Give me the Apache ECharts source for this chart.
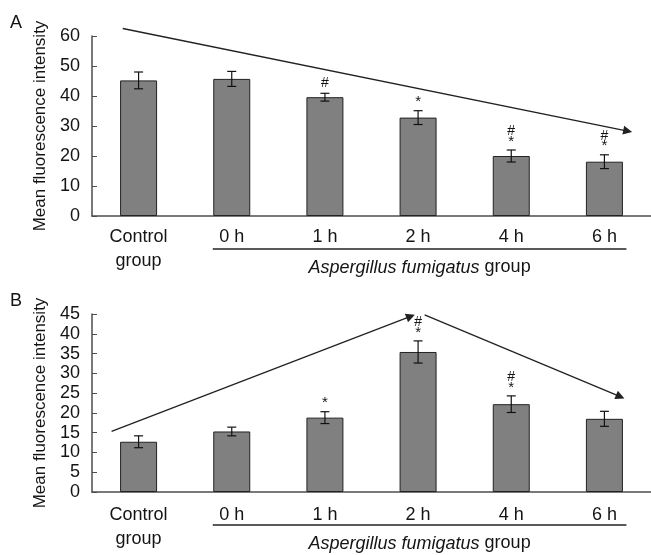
<!DOCTYPE html>
<html><head><meta charset="utf-8">
<script src="https://cdn.jsdelivr.net/npm/echarts@6/dist/echarts.min.js"></script>
<style>html,body{margin:0;padding:0;background:#fff}#c{width:651px;height:555px}</style>
</head><body><div id="c"></div>
<script>
// ---- data ----
const categories = ['Control\ngroup', '0 h', '1 h', '2 h', '4 h', '6 h'];
const meanA = [45.2, 45.7, 39.6, 32.8, 20.0, 18.1];
const errA  = [2.8, 2.5, 1.3, 2.3, 2.0, 2.3];
const marksA = ['', '', '#', '*', '#*', '#*'];
const meanB = [12.7, 15.3, 18.8, 35.4, 22.2, 18.5];
const errB  = [1.5, 1.1, 1.5, 2.8, 2.1, 1.9];
const marksB = ['', '', '*', '#*', '#*', ''];
// trend arrows in (category position 0..6, value) units
const arrowA  = [[0.33, 62.5], [5.75, 28.3]];
const arrowB1 = [[0.21, 15.3], [3.42, 44.4]];
const arrowB2 = [[3.57, 44.8], [5.67, 24.1]];
const yTicksA = [0, 60, 10];
const yTicksB = [0, 45, 5];
const panelLetters = ['A', 'B'];
const yTitle = 'Mean fluorescence intensity';
const groupTitle = ['Aspergillus fumigatus', 'group'];

const FONT = '"Liberation Sans", Arial, sans-serif';
const TXT = '#141414';
const AXC = '#4d4d4d';

const chart = echarts.init(document.getElementById('c'), null, {renderer: 'canvas'});

const L = 92, W = 560;
const grids = [
  {left: L, width: W, top: 36, height: 180},     // A main
  {left: L, width: W, top: 6, height: 210},      // A overlay (0..70)
  {left: L, width: W, top: 314, height: 178},    // B main
  {left: L, width: W, top: 314, height: 178}     // B overlay
];

function catAxis(gi, margin) {
  return {
    type: 'category', gridIndex: gi, data: categories,
    boundaryGap: true,
    axisLine: {lineStyle: {color: AXC, width: 1.5}},
    axisTick: {inside: true, length: 4, interval: 0, alignWithLabel: false, lineStyle: {color: AXC}},
    axisLabel: {interval: 0, fontFamily: FONT, fontSize: 18, color: TXT, lineHeight: 24, margin: margin}
  };
}
function valAxis(gi, t) {
  return {
    type: 'value', gridIndex: gi, min: t[0], max: t[1], interval: t[2],
    splitLine: {show: false},
    axisLine: {show: true, lineStyle: {color: AXC, width: 1.5}},
    axisTick: {show: true, inside: true, length: 5, lineStyle: {color: AXC}},
    axisLabel: {fontFamily: FONT, fontSize: 18, color: TXT, margin: 12},
    name: yTitle, nameLocation: 'middle', nameGap: 42,
    nameTextStyle: {fontFamily: FONT, fontSize: 17, color: TXT}
  };
}
function hiddenX(gi) { return {type: 'value', gridIndex: gi, min: 0, max: 6, show: false}; }
function hiddenY(gi, max) { return {type: 'value', gridIndex: gi, min: 0, max: max, show: false}; }

function barSeries(ax, means) {
  return {
    type: 'bar', xAxisIndex: ax, yAxisIndex: ax, data: means, barWidth: 37,
    itemStyle: {color: '#808080', borderColor: '#222', borderWidth: 1},
    silent: true
  };
}
function errSeries(ax, means, errs, marks) {
  return {
    type: 'custom', xAxisIndex: ax, yAxisIndex: ax, z: 5, silent: true,
    data: means.map((m, i) => [i, m - errs[i], m + errs[i]]),
    encode: {x: 0, y: [1, 2]},
    renderItem: function (params, api) {
      const x = api.value(0);
      const lo = api.coord([x, api.value(1)]);
      const hi = api.coord([x, api.value(2)]);
      const w = 4.5;
      const st = {stroke: '#111', lineWidth: 1.2};
      const ch = [
        {type: 'line', shape: {x1: lo[0], y1: lo[1], x2: hi[0], y2: hi[1]}, style: st},
        {type: 'line', shape: {x1: lo[0] - w, y1: lo[1], x2: lo[0] + w, y2: lo[1]}, style: st},
        {type: 'line', shape: {x1: hi[0] - w, y1: hi[1], x2: hi[0] + w, y2: hi[1]}, style: st}
      ];
      const mk = marks[params.dataIndex];
      const hasStar = mk.indexOf('*') >= 0, hasHash = mk.indexOf('#') >= 0;
      if (hasStar) {
        ch.push({type: 'text', style: {text: '*', x: hi[0], y: hi[1] - 1, align: 'center', verticalAlign: 'bottom',
          font: '15px ' + FONT, fill: TXT}});
      }
      if (hasHash) {
        ch.push({type: 'text', style: {text: '#', x: hi[0], y: hi[1] - (hasStar ? 12 : 3), align: 'center', verticalAlign: 'bottom',
          font: '14px ' + FONT, fill: TXT}});
      }
      return {type: 'group', children: ch};
    }
  };
}
function arrowSeries(ax, lines) {
  return {
    type: 'line', xAxisIndex: ax, yAxisIndex: ax, data: [], silent: true,
    markLine: {
      silent: true, animation: false,
      symbol: ['none', 'triangle'], symbolSize: 9,
      label: {show: false},
      lineStyle: {color: '#222', width: 1.3, type: 'solid'},
      itemStyle: {color: '#222'},
      emphasis: {disabled: true},
      data: lines.map(l => [{coord: l[0]}, {coord: l[1]}])
    }
  };
}

const option = {
  animation: false,
  backgroundColor: '#fff',
  grid: grids,
  xAxis: [catAxis(0, 9.5), hiddenX(1), catAxis(2, 11), hiddenX(3)],
  yAxis: [valAxis(0, yTicksA), hiddenY(1, 70), valAxis(2, yTicksB), hiddenY(3, 45)],
  series: [
    barSeries(0, meanA), errSeries(0, meanA, errA, marksA),
    arrowSeries(1, [arrowA]),
    barSeries(2, meanB), errSeries(2, meanB, errB, marksB),
    arrowSeries(3, [arrowB1, arrowB2])
  ]
};
chart.setOption(option);

// annotations positioned from the axes
const graphics = [];
[[0, 0], [2, 1]].forEach(([ax, k]) => {
  const p1 = chart.convertToPixel({xAxisIndex: ax, yAxisIndex: ax}, [1, 0]);
  const p5 = chart.convertToPixel({xAxisIndex: ax, yAxisIndex: ax}, [5, 0]);
  const pTop = chart.convertToPixel({xAxisIndex: ax, yAxisIndex: ax}, [0, option.yAxis[ax].max]);
  const x1 = p1[0] - 19, x2 = p5[0] + 22, y = p1[1] + 33;
  graphics.push({type: 'line', silent: true, shape: {x1: x1, y1: y, x2: x2, y2: y}, style: {stroke: '#222', lineWidth: 1.3}});
  graphics.push({type: 'text', silent: true, x: (x1 + x2) / 2, y: p1[1] + 51.5,
    style: {text: '{i|' + groupTitle[0] + '} ' + groupTitle[1], align: 'center', verticalAlign: 'middle',
      font: '18px ' + FONT, fill: TXT, rich: {i: {fontStyle: 'italic', fontSize: 18, fontFamily: FONT, fill: TXT}}}});
  graphics.push({type: 'text', silent: true, x: 10, y: pTop[1] - 13,
    style: {text: panelLetters[k], align: 'left', verticalAlign: 'middle', font: '18px ' + FONT, fill: TXT}});
});
chart.setOption({graphic: graphics});
</script>
</body></html>
